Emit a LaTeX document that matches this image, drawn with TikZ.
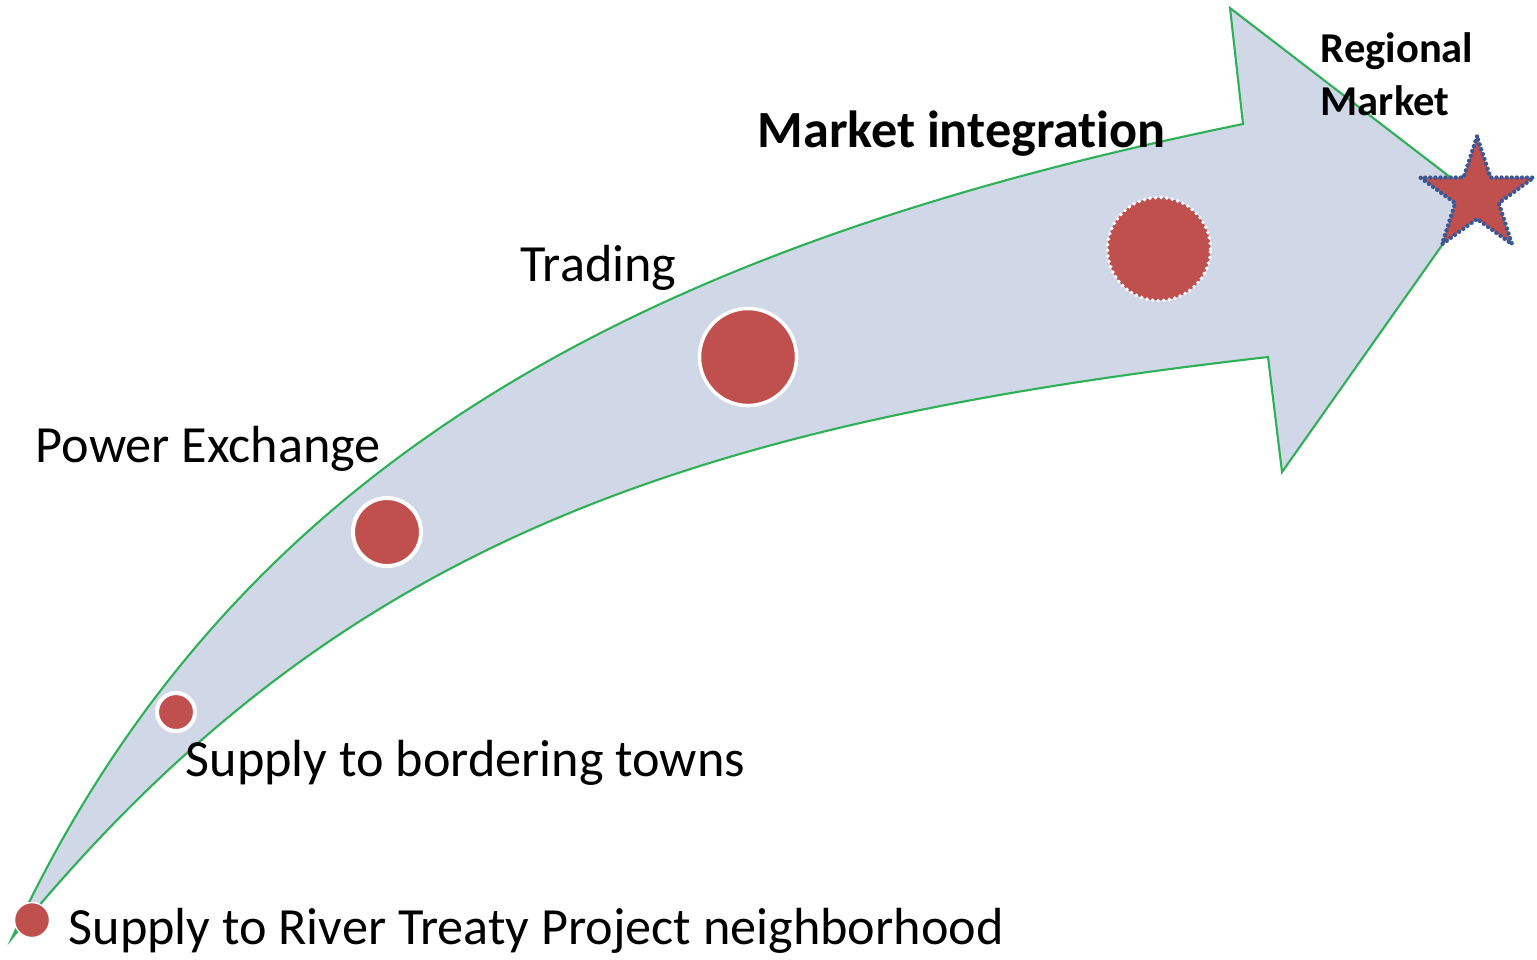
\documentclass[tikz,border=0pt]{standalone}
\usepackage{fontspec}
\setmainfont{Carlito}[Ligatures={NoCommon}]
\usetikzlibrary{shapes.geometric}
\definecolor{arrowfill}{RGB}{208,216,232}
\definecolor{arrowedge}{RGB}{46,176,86}
\definecolor{dotred}{RGB}{192,80,77}
\definecolor{starblue}{RGB}{58,88,150}
\begin{document}
\begin{tikzpicture}[x=0.01cm,y=-0.01cm,
  band/.style={fill=arrowfill, draw=arrowedge, line width=0.6pt, line join=miter},
  milestone/.style={circle, fill=dotred, draw=white, inner sep=0pt, outer sep=0pt},
  label/.style={anchor=base west, inner sep=0pt, font=\fontsize{14.85pt}{17pt}\selectfont},
  boldlabel/.style={label, font=\fontsize{14.85pt}{17pt}\selectfont\bfseries},
  goal/.style={star, star points=5, star point ratio=2.6, minimum size=1.19cm,
    inner sep=0pt, fill=dotred, draw=starblue, line width=1.25pt, line cap=round,
    dash pattern=on 0pt off 1.45pt}
]
\useasboundingbox (0,0) rectangle (1537,959);

% curved progress arrow
\draw[band] (12,938) .. controls (235,455) and (655,244) .. (1243,124)
  -- (1230,8) -- (1476,197) -- (1282,472) -- (1268,357)
  .. controls (672,425) and (329,550) .. (12,938) -- cycle;

% milestones along the arrow
\node[milestone, minimum size=0.35cm, line width=0.4pt] (m1) at (32,920) {};
\node[milestone, minimum size=0.38cm, line width=1.15pt] (m2) at (176,712) {};
\node[milestone, minimum size=0.68cm, line width=1.15pt] (m3) at (387,532) {};
\node[milestone, minimum size=0.97cm, line width=1pt] (m4) at (748,357) {};
\node[milestone, minimum size=1.03cm, line width=1.1pt, line cap=round,
  dash pattern=on 0pt off 1.6pt] (m5) at (1159,249) {};

% stage labels
\node[label] (t1) at (68,944) {Supply to River Treaty Project neighborhood};
\node[label] (t2) at (185,776) {Supply to bordering towns};
\node[label] (t3) at (35,462) {Power Exchange};
\node[label] (t4) at (520,281) {Trading};
\node[boldlabel] (t5) at (757,147) {Market integration};
\node[anchor=base west, inner sep=0pt, font=\fontsize{12.1pt}{14.8pt}\selectfont\bfseries,
  align=left] (t6) at (1320,115) {Regional\\Market};

% final target
\node[goal] (g) at (1477,196) {};
\end{tikzpicture}
\end{document}
